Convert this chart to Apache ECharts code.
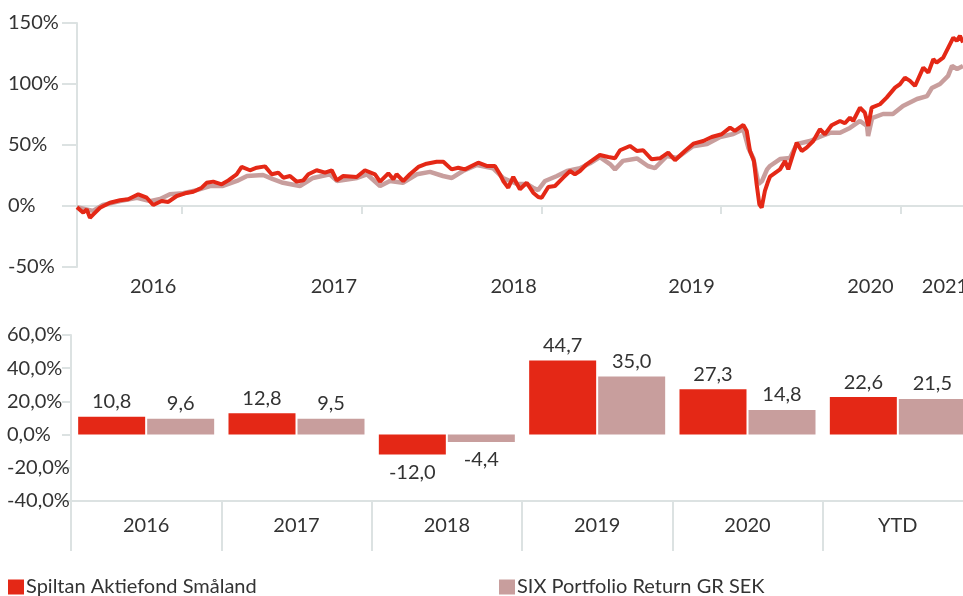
<!DOCTYPE html>
<html>
<head>
<meta charset="utf-8">
<script src="https://cdn.jsdelivr.net/npm/echarts@6/dist/echarts.min.js"></script>
<style>
  html, body { margin: 0; padding: 0; background: #fff; }
  #chart { width: 963px; height: 596px; }
</style>
</head>
<body>
<div id="chart"></div>
<script>
// development since start (decimal year, %)
const fundYears = [2016.416, 2016.451, 2016.470, 2016.488, 2016.507, 2016.544, 2016.599, 2016.655, 2016.701, 2016.757,
  2016.804, 2016.840, 2016.887, 2016.924, 2016.971, 2017.017, 2017.063, 2017.110, 2017.137, 2017.174,
  2017.221, 2017.258, 2017.304, 2017.332, 2017.378, 2017.416, 2017.462, 2017.499, 2017.536, 2017.564,
  2017.601, 2017.638, 2017.675, 2017.703, 2017.749, 2017.796, 2017.833, 2017.861, 2017.897, 2017.972,
  2018.018, 2018.074, 2018.102, 2018.148, 2018.176, 2018.194, 2018.231, 2018.268, 2018.315, 2018.361,
  2018.417, 2018.454, 2018.500, 2018.537, 2018.574, 2018.648, 2018.695, 2018.741, 2018.769, 2018.787,
  2018.815, 2018.843, 2018.880, 2018.918, 2018.954, 2018.982, 2019.001, 2019.038, 2019.075, 2019.121,
  2019.159, 2019.186, 2019.214, 2019.251, 2019.325, 2019.372, 2019.409, 2019.437, 2019.492, 2019.530,
  2019.566, 2019.613, 2019.659, 2019.705, 2019.743, 2019.798, 2019.845, 2019.900, 2019.947, 2020.002,
  2020.049, 2020.076, 2020.123, 2020.142, 2020.160, 2020.182, 2020.197, 2020.212, 2020.225, 2020.243,
  2020.258, 2020.271, 2020.327, 2020.355, 2020.373, 2020.420, 2020.448, 2020.475, 2020.512, 2020.549,
  2020.577, 2020.614, 2020.661, 2020.688, 2020.716, 2020.734, 2020.772, 2020.799, 2020.818, 2020.837,
  2020.883, 2020.920, 2020.967, 2020.994, 2021.022, 2021.050, 2021.078, 2021.124, 2021.152, 2021.180,
  2021.198, 2021.235, 2021.263, 2021.291, 2021.310, 2021.328, 2021.345]
const fundLine = [-1, -5.5, -2.7, -9.6, -6.8, -1.4, 2.7, 4.7, 5.5, 9.6,
  6.8, 0.8, 4.1, 3.3, 8.2, 10.4, 11.7, 15, 19, 20,
  17.8, 21, 26, 32, 29.3, 31.4, 32.5, 26, 27.3, 23.2,
  24.6, 20, 21, 26, 29.3, 27.3, 29.3, 21, 24.6, 23.8,
  29.3, 26, 20, 26.8, 21.9, 26, 20.5, 26, 32, 34.7,
  36.3, 36.3, 30, 31.4, 30, 35.5, 32.8, 32.8, 26, 20.5,
  15, 23.8, 13.7, 19, 10.9, 7.4, 6.8, 15.6, 16.4, 23.2,
  28.7, 26, 28.7, 34.2, 41.8, 40.2, 39.1, 45.7, 49.2, 45.1,
  45.7, 38.3, 39.1, 43.7, 37.5, 45.1, 51.1, 53.3, 56.6, 58.8,
  64.2, 61.5, 66.4, 61.5, 45.1, 36.9, 17.8, 1.4, -1.4, 12.3,
  19, 24, 30, 36.9, 30, 51.9, 45.1, 47.8, 53.3, 62.9,
  58.8, 66.2, 69.7, 67.8, 72.4, 69.7, 80.6, 76.5, 65.6, 80.6,
  83.4, 88.8, 97, 99.8, 105.2, 102.5, 98.4, 113.4, 109.3, 120.3,
  117.5, 121.6, 129.8, 138, 135.3, 139.4, 134]

const benchYears = [2016.416, 2016.505, 2016.560, 2016.655, 2016.750, 2016.822, 2016.878, 2016.933, 2017.006, 2017.083,
  2017.156, 2017.228, 2017.306, 2017.362, 2017.451, 2017.506, 2017.562, 2017.656, 2017.701, 2017.729,
  2017.823, 2017.862, 2017.974, 2018.029, 2018.102, 2018.157, 2018.229, 2018.307, 2018.380, 2018.452,
  2018.502, 2018.563, 2018.641, 2018.730, 2018.786, 2018.825, 2018.864, 2018.919, 2018.953, 2018.981,
  2019.020, 2019.086, 2019.142, 2019.214, 2019.270, 2019.325, 2019.381, 2019.409, 2019.453, 2019.531,
  2019.592, 2019.631, 2019.698, 2019.754, 2019.843, 2019.921, 2019.994, 2020.067, 2020.123, 2020.151,
  2020.179, 2020.207, 2020.227, 2020.255, 2020.271, 2020.327, 2020.382, 2020.421, 2020.494, 2020.560,
  2020.605, 2020.661, 2020.716, 2020.772, 2020.811, 2020.817, 2020.839, 2020.900, 2020.955, 2021.011,
  2021.089, 2021.145, 2021.172, 2021.217, 2021.262, 2021.284, 2021.312, 2021.345]
const benchLine = [-1, -4, 0.8, 4, 6.8, 4, 5.7, 9.6, 10.5, 13,
  16.4, 16.4, 20.5, 24.6, 25.4, 22, 19, 16.4, 20.5, 23,
  26, 20.5, 23, 26, 16.4, 20.5, 19, 26, 28, 24.6,
  23, 28.7, 33.6, 31, 23, 20.5, 18, 18, 15, 13,
  20.5, 24.6, 28.7, 31, 35, 40, 34.4, 30, 37, 39,
  32.8, 31, 41, 39.4, 49, 50.8, 56.6, 59, 63, 47.6,
  39, 18, 20.5, 30, 32.8, 38.5, 39.4, 50.8, 53.3, 57.4,
  60, 60, 64, 69.7, 65.6, 57.4, 72, 75.4, 75.4, 82,
  87.7, 90, 96.8, 100, 106.6, 114.8, 112.3, 114.8]

const yearLabels = ['2016', '2017', '2018', '2019', '2020', '2021']
const yearTicks = [2017, 2018, 2019, 2020, 2021]
// where the year labels sit on the axis (they are shifted left of the ticks)
const yearLabelAt = [2016.84, 2017.845, 2018.845, 2019.835, 2020.83, 2021.245]

// yearly returns, %
const categories = ['2016', '2017', '2018', '2019', '2020', 'YTD']
const fundReturns = [10.8, 12.8, -12.0, 44.7, 27.3, 22.6]
const benchReturns = [9.6, 9.5, -4.4, 35.0, 14.8, 21.5]

const FUND = 'Spiltan Aktiefond Småland'
const BENCH = 'SIX Portfolio Return GR SEK'
const red = '#E42816'
const pink = '#C89E9D'
const axisGray = '#DCE2E2'
const font = 'Lato'
const fs = 20
const txt = '#333333'

function comma(v) {
  return v.toFixed(1).replace('.', ',')
}

function pairs(xs, ys) {
  return xs.map(function(x, i) { return [x, ys[i]] })
}

function bars(values) {
  return values.map(function(v) {
    return v < 0 ? { value: v, label: { position: 'bottom', distance: 8 } } : v
  })
}

let chart = echarts.init(document.getElementById('chart'))
chart.setOption({
  animation: false,
  textStyle: { fontFamily: font },
  grid: [
    { left: 77, right: 0, top: 23, height: 244, outerBoundsMode: 'none' },
    // the bar chart runs a little past the right edge of the picture
    { left: 71, right: -10, top: 335, height: 166, outerBoundsMode: 'none' }
  ],
  legend: [
    {
      data: [FUND], left: 8, top: 577, padding: 0, icon: 'rect', itemWidth: 16, itemHeight: 15,
      textStyle: { fontFamily: font, fontSize: fs, color: txt, padding: [0, 0, 0, -3] }
    },
    {
      data: [BENCH], left: 499, top: 577, padding: 0, icon: 'rect', itemWidth: 16, itemHeight: 15,
      textStyle: { fontFamily: font, fontSize: fs, color: txt, padding: [0, 0, 0, -3] }
    }
  ],
  xAxis: [
    {
      type: 'value', gridIndex: 0, min: 2016.416, max: 2021.345,
      splitLine: { show: false },
      axisLine: { show: true, lineStyle: { color: axisGray, width: 2 } },
      axisTick: { show: true, customValues: yearTicks, length: 8, lineStyle: { color: axisGray, width: 2 } },
      axisLabel: {
        customValues: yearLabelAt, margin: 10, fontSize: fs, color: txt, fontFamily: font,
        formatter: function(v) {
          let i = yearLabelAt.findIndex(function(p) { return Math.abs(p - v) < 0.01 })
          return i >= 0 ? yearLabels[i] : ''
        }
      }
    },
    {
      type: 'category', gridIndex: 1, data: categories,
      axisLine: { show: true, onZero: false, lineStyle: { color: axisGray, width: 2 } },
      axisTick: { show: true, length: 50, lineStyle: { color: axisGray, width: 2 } },
      axisLabel: { margin: 15, fontSize: fs, color: txt, fontFamily: font }
    }
  ],
  yAxis: [
    {
      type: 'value', gridIndex: 0, min: -50, max: 150, interval: 50,
      splitLine: { show: false },
      axisLine: { show: true, lineStyle: { color: axisGray, width: 2 } },
      axisTick: { show: true, length: 15, lineStyle: { color: axisGray, width: 2 } },
      axisLabel: {
        align: 'left', margin: 69, fontSize: fs, color: txt, fontFamily: font,
        formatter: function(v) { return v + '%' }
      }
    },
    {
      type: 'value', gridIndex: 1, min: -40, max: 60, interval: 20,
      splitLine: { show: false },
      axisLine: { show: true, lineStyle: { color: axisGray, width: 2 } },
      axisTick: { show: true, length: 9, lineStyle: { color: axisGray, width: 2 } },
      axisLabel: {
        align: 'left', margin: 64, fontSize: fs, color: txt, fontFamily: font,
        formatter: function(v) { return comma(v) + '%' }
      }
    }
  ],
  series: [
    {
      name: BENCH, type: 'line', xAxisIndex: 0, yAxisIndex: 0,
      data: pairs(benchYears, benchLine), showSymbol: false,
      lineStyle: { color: pink, width: 4.5 }, itemStyle: { color: pink }, z: 2
    },
    {
      name: FUND, type: 'line', xAxisIndex: 0, yAxisIndex: 0,
      data: pairs(fundYears, fundLine), showSymbol: false,
      lineStyle: { color: red, width: 4 }, itemStyle: { color: red }, z: 3
    },
    {
      name: FUND, type: 'bar', xAxisIndex: 1, yAxisIndex: 1,
      data: bars(fundReturns), barWidth: 67, barGap: '3%',
      itemStyle: { color: red },
      label: {
        show: true, position: 'top', distance: 5, fontSize: fs, color: txt, fontFamily: font,
        formatter: function(p) { return comma(p.value) }
      }
    },
    {
      name: BENCH, type: 'bar', xAxisIndex: 1, yAxisIndex: 1,
      data: bars(benchReturns), barWidth: 67, barGap: '3%',
      itemStyle: { color: pink },
      label: {
        show: true, position: 'top', distance: 5, fontSize: fs, color: txt, fontFamily: font,
        formatter: function(p) { return comma(p.value) }
      }
    }
  ]
})
</script>
</body>
</html>
